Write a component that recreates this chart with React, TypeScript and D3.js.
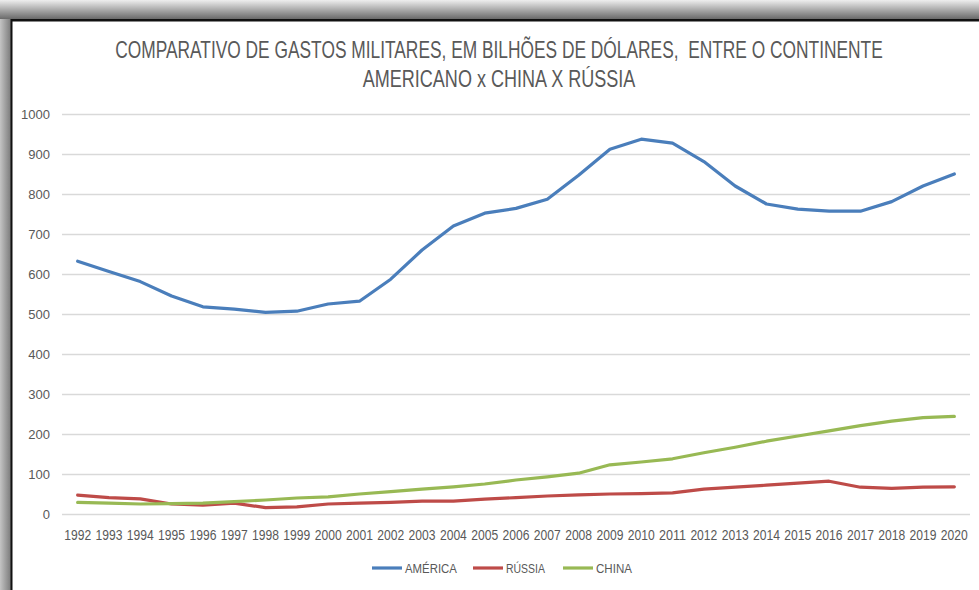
import React, { useRef, useEffect } from "react";
import * as d3 from "d3";

const years = [
  "1992", "1993", "1994", "1995", "1996", "1997", "1998", "1999", "2000", "2001",
  "2002", "2003", "2004", "2005", "2006", "2007", "2008", "2009", "2010", "2011",
  "2012", "2013", "2014", "2015", "2016", "2017", "2018", "2019", "2020",
];

const america = [
  632, 606, 581, 545, 518, 512, 504, 507, 525, 532,
  587, 660, 720, 752, 764, 787, 847, 912, 937, 927,
  881, 820, 775, 762, 757, 757, 781, 820, 850,
];

const russia = [
  47, 41, 38, 25, 22, 27, 16, 18, 25, 27,
  29, 32, 32, 37, 41, 45, 48, 50, 51, 53,
  62, 67, 72, 77, 82, 67, 64, 67, 68,
];

const china = [
  29, 27, 25, 26, 27, 31, 35, 40, 43, 50,
  56, 62, 68, 75, 85, 93, 102, 123, 130, 138,
  153, 167, 182, 195, 208, 221, 232, 241, 244,
];

const yTicks = [0, 100, 200, 300, 400, 500, 600, 700, 800, 900, 1000];

const seriesNames = ["AMÉRICA", "RÚSSIA", "CHINA"];
const seriesColors = ["#4a7ebb", "#be4b48", "#98b954"];

const titleLines = [
  "COMPARATIVO DE GASTOS MILITARES, EM BILHÕES DE DÓLARES,  ENTRE O CONTINENTE",
  "AMERICANO x CHINA X RÚSSIA",
];

const W = 979;
const H = 590;
const textColor = "#595959";
const font = '"Liberation Sans", Arial, sans-serif';

// squeeze a text horizontally to a given width (the source font is condensed)
const squeeze = (sel: d3.Selection<SVGTextElement, any, any, any>, target: number, x: number, y: number) => {
  const node = sel.node() as SVGTextElement;
  const len = node.getComputedTextLength() || target;
  sel.attr("x", 0).attr("y", 0).attr("transform", `translate(${x},${y}) scale(${target / len},1)`);
};

const Chart = () => {
  const ref = useRef<SVGSVGElement>(null);

  useEffect(() => {
    if (!ref.current) return;
    const svg = d3.select(ref.current);
    svg.selectAll("*").remove();

    // frame like the screenshot border
    const defs = svg.append("defs");
    const gTop = defs.append("linearGradient").attr("id", "gTop")
      .attr("x1", 0).attr("y1", 0).attr("x2", 0).attr("y2", 1);
    gTop.append("stop").attr("offset", "0%").attr("stop-color", "#eeeeee");
    gTop.append("stop").attr("offset", "100%").attr("stop-color", "#6a6a6a");
    const gLeft = defs.append("linearGradient").attr("id", "gLeft")
      .attr("x1", 0).attr("y1", 0).attr("x2", 1).attr("y2", 0);
    gLeft.append("stop").attr("offset", "0%").attr("stop-color", "#c4c4c4");
    gLeft.append("stop").attr("offset", "100%").attr("stop-color", "#7a7a7a");

    svg.append("rect").attr("width", W).attr("height", H).attr("fill", "#fff");
    svg.append("rect").attr("x", 0).attr("y", 0).attr("width", 11).attr("height", H).attr("fill", "url(#gLeft)");
    svg.append("rect").attr("x", 0).attr("y", 0).attr("width", W).attr("height", 19).attr("fill", "url(#gTop)");
    svg.append("rect").attr("x", 11).attr("y", 19).attr("width", W - 11).attr("height", 2.5).attr("fill", "#111");
    svg.append("rect").attr("x", 10.5).attr("y", 19).attr("width", 2).attr("height", H - 19).attr("fill", "#111");

    const margin = { top: 114, right: 9, bottom: 76, left: 62 };
    const width = W - margin.left - margin.right;
    const height = H - margin.top - margin.bottom;

    const x = d3.scaleBand().domain(years).range([0, width]);
    const y = d3.scaleLinear().domain([0, 1000]).range([height, 0]);

    const g = svg.append("g").attr("transform", `translate(${margin.left},${margin.top})`);

    // title
    titleLines.forEach((t, i) => {
      const txt = svg.append("text")
        .attr("text-anchor", "middle")
        .attr("font-family", font)
        .attr("font-size", 23)
        .attr("fill", textColor)
        .style("white-space", "pre")
        .text(t);
      squeeze(txt, i === 0 ? 768 : 273, 499, 58 + i * 29);
    });

    // gridlines
    g.append("g")
      .call(d3.axisLeft(y).tickValues(yTicks).tickSize(-width).tickFormat(() => ""))
      .call((a) => a.select(".domain").remove())
      .call((a) => a.selectAll("line").attr("stroke", "#d9d9d9").attr("stroke-width", 1.5));

    // y labels
    g.append("g")
      .call(d3.axisLeft(y).tickValues(yTicks).tickSize(0).tickPadding(12).tickFormat(d3.format("d")))
      .call((a) => a.select(".domain").remove())
      .call((a) => a.selectAll("text")
        .attr("font-family", font)
        .attr("font-size", 13)
        .attr("fill", textColor));

    // x labels
    const cx = (d: string) => (x(d) as number) + x.bandwidth() / 2;
    const xl = g.append("g").attr("transform", `translate(0,${height})`);
    years.forEach((yr) => {
      const txt = xl.append("text")
        .attr("text-anchor", "middle")
        .attr("font-family", font)
        .attr("font-size", 14.5)
        .attr("fill", textColor)
        .text(yr);
      squeeze(txt, 27, cx(yr), 26);
    });

    const line = d3.line<number>()
      .x((_, i) => cx(years[i]))
      .y((v) => y(v));

    [america, russia, china].forEach((vals, i) => {
      g.append("path")
        .datum(vals)
        .attr("fill", "none")
        .attr("stroke", seriesColors[i])
        .attr("stroke-width", 3.2)
        .attr("stroke-linejoin", "round")
        .attr("stroke-linecap", "round")
        .attr("d", line);
    });

    // legend
    const legendX = [372, 473, 563];
    const legendW = [52, 39, 36];
    const legend = svg.append("g").attr("transform", "translate(0,568)");
    seriesNames.forEach((name, i) => {
      legend.append("line")
        .attr("x1", legendX[i]).attr("x2", legendX[i] + 30)
        .attr("y1", 0).attr("y2", 0)
        .attr("stroke", seriesColors[i])
        .attr("stroke-width", 3.2);
      const txt = legend.append("text")
        .attr("font-family", font)
        .attr("font-size", 13)
        .attr("fill", textColor)
        .text(name);
      squeeze(txt, legendW[i], legendX[i] + 33, 5);
    });
  }, []);

  return <svg ref={ref} width={W} height={H} style={{ display: "block" }} />;
};

export default function App() {
  return (
    <div style={{ position: "fixed", left: 0, top: 0 }}>
      <Chart />
    </div>
  );
}
